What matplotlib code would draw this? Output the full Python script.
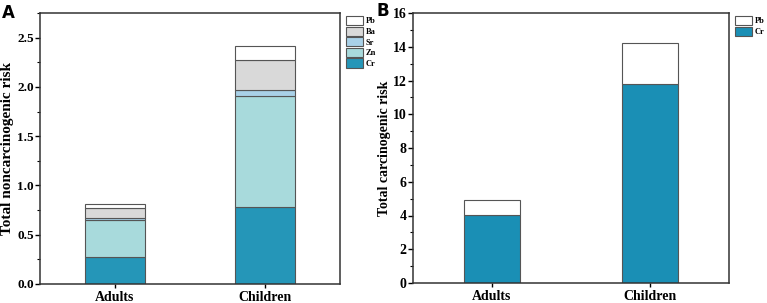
import numpy as np
import matplotlib.pyplot as plt
from matplotlib.ticker import MultipleLocator

plt.rcParams['font.family'] = ['Liberation Serif', 'DejaVu Serif']
plt.rcParams['font.weight'] = 'bold'

groups = ['Adults', 'Children']

# noncarcinogenic risk (panel A)
nc_elements = ['Cr', 'Zn', 'Sr', 'Ba', 'Pb']
nc_cr = [0.27, 0.78]
nc_zn = [0.38, 1.13]
nc_sr = [0.02, 0.055]
nc_ba = [0.105, 0.31]
nc_pb = [0.035, 0.14]

# carcinogenic risk (panel B)
c_elements = ['Cr', 'Pb']
c_cr = [4.03, 11.8]
c_pb = [0.87, 2.45]

colors_a = {'Cr': '#2596b8', 'Zn': '#a8dadc', 'Sr': '#a9d1e8', 'Ba': '#d9d9d9', 'Pb': '#ffffff'}
colors_b = {'Cr': '#1a8fb5', 'Pb': '#ffffff'}
edge = '#555555'

fig = plt.figure(figsize=(7.67, 3.03), dpi=100)
axA = fig.add_axes([40/767, 19/303, 300/767, 271/303])
axB = fig.add_axes([413/767, 20/303, 316/767, 270/303])

x = np.array([1, 2])


def style(ax, ysize):
    for s in ax.spines.values():
        s.set_color('#333333')
        s.set_linewidth(1.1)
    ax.tick_params(axis='y', which='major', direction='out', length=3.5, width=1, labelsize=ysize, pad=1)
    ax.tick_params(axis='y', which='minor', direction='out', length=2, width=0.8)
    ax.tick_params(axis='x', which='major', direction='out', length=3, width=1, labelsize=10, pad=2)
    ax.set_xticks(x)
    ax.set_xticklabels(groups, fontweight='bold')
    ax.set_xlim(0.5, 2.5)
    for lab in ax.get_yticklabels():
        lab.set_fontweight('bold')


def add_legend(ax):
    h, l = ax.get_legend_handles_labels()
    ax.legend(h[::-1], l[::-1], loc='upper left', bbox_to_anchor=(1.0, 1.01), frameon=False,
              prop={'size': 6, 'weight': 'bold'}, handlelength=2.0, handleheight=1.3,
              labelspacing=0.15, borderaxespad=0.3, handletextpad=0.4)


# panel A
bottom = np.zeros(2)
for name, vals in zip(nc_elements, [nc_cr, nc_zn, nc_sr, nc_ba, nc_pb]):
    axA.bar(x, vals, 0.4, bottom=bottom, color=colors_a[name],
            edgecolor=edge, linewidth=0.8, label=name)
    bottom += np.array(vals)
axA.set_ylim(0, 2.75)
axA.yaxis.set_major_locator(MultipleLocator(0.5))
axA.yaxis.set_minor_locator(MultipleLocator(0.25))
style(axA, 9.5)
axA.set_ylabel('Total noncarcinogenic risk', fontsize=11, fontweight='bold', va='center')
axA.yaxis.set_label_coords(-0.107, 0.5)
add_legend(axA)
fig.text(2/767, 1 - 13/303, 'A', fontsize=12, fontweight='bold', family='DejaVu Sans', va='center')

# panel B
bottom = np.zeros(2)
for name, vals in zip(c_elements, [c_cr, c_pb]):
    axB.bar(x, vals, 0.35, bottom=bottom, color=colors_b[name],
            edgecolor=edge, linewidth=0.8, label=name)
    bottom += np.array(vals)
axB.set_ylim(0, 16)
axB.yaxis.set_major_locator(MultipleLocator(2))
axB.yaxis.set_minor_locator(MultipleLocator(1))
style(axB, 10)
axB.set_ylabel('Total carcinogenic risk', fontsize=10, fontweight='bold', va='center')
axB.yaxis.set_label_coords(-0.09, 0.5)
add_legend(axB)
fig.text(376/767, 1 - 11/303, 'B', fontsize=12, fontweight='bold', family='DejaVu Sans', va='center')

plt.savefig('out.png', dpi=100)
